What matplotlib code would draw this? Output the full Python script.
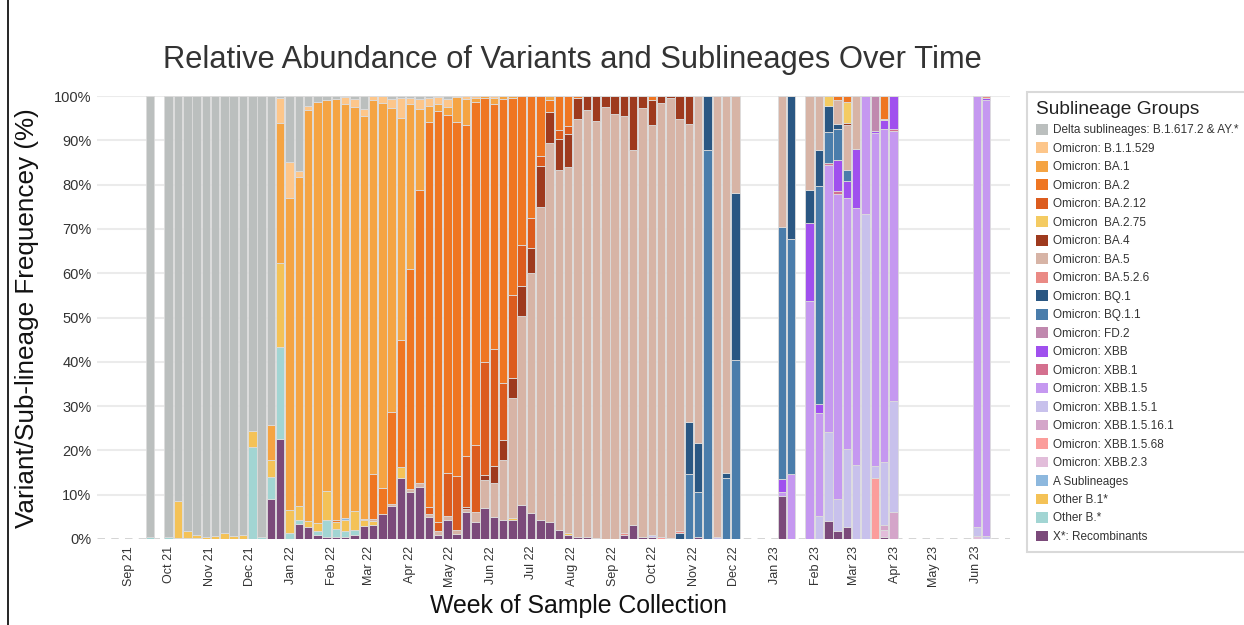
import numpy as np
import pandas as pd
import matplotlib.pyplot as plt
import matplotlib.dates as mdates
from matplotlib.patches import Patch
from matplotlib.lines import Line2D

plt.rcParams['font.family'] = ['Liberation Sans', 'DejaVu Sans']

# weekly sample dates (bar centres)
weeks = ['2021-09-17',
         '2021-10-01', '2021-10-08', '2021-10-15', '2021-10-22', '2021-10-29', '2021-11-05',
         '2021-11-12', '2021-11-19', '2021-11-26', '2021-12-03', '2021-12-10',
         '2021-12-17', '2021-12-24', '2021-12-31', '2022-01-07', '2022-01-14', '2022-01-21',
         '2022-01-28', '2022-02-04', '2022-02-11', '2022-02-18',
         '2022-02-25', '2022-03-04', '2022-03-11', '2022-03-18', '2022-03-25', '2022-04-01',
         '2022-04-08', '2022-04-15', '2022-04-22', '2022-04-29',
         '2022-05-06', '2022-05-13', '2022-05-20', '2022-05-27', '2022-06-03', '2022-06-10',
         '2022-06-17', '2022-06-24', '2022-07-01', '2022-07-08',
         '2022-07-15', '2022-07-22', '2022-07-29', '2022-08-05', '2022-08-12', '2022-08-19',
         '2022-08-26', '2022-09-02', '2022-09-09', '2022-09-16',
         '2022-09-23', '2022-09-30', '2022-10-07', '2022-10-14', '2022-10-21', '2022-10-28',
         '2022-11-04', '2022-11-11', '2022-11-18', '2022-11-25', '2022-12-02',
         '2023-01-06', '2023-01-13', '2023-01-27', '2023-02-03', '2023-02-10', '2023-02-17',
         '2023-02-24', '2023-03-03', '2023-03-10', '2023-03-17', '2023-03-24', '2023-03-31',
         '2023-06-02', '2023-06-09']

# % per lineage, one value per week (rows: Sep-Dec21 | Dec21-Feb22 | Feb-Apr22 | May-Jul22 |
# Jul-Sep22 | Sep-Dec22 | Jan-Mar23 | Jun23)
delta = [99.5, 99.5, 91.5, 98.1, 99, 99.6, 99.4, 98.7, 99.3, 99, 75.6, 99.6,
         74.3, 0.4, 14.8, 16.9, 2.3, 1.4, 0.8, 0.6, 0.2, 0.7,
         2.9, 0, 0, 0.6, 0.5, 0.5, 0.6, 0.5, 0.3, 0.7,
         0, 0, 0, 0, 0, 0, 0, 0, 0, 0,
         0, 0, 0, 0, 0, 0, 0, 0, 0, 0,
         0, 0, 0, 0, 0, 0, 0, 0, 0, 0, 0,
         0, 0, 0, 0, 0, 0, 0, 0, 0, 0, 0, 0,
         0, 0]
b11529 = [0, 0, 0, 0, 0, 0, 0, 0, 0, 0, 0, 0,
          0, 5.6, 8.3, 1.4, 0.9, 0, 0, 0, 1.7, 1.7,
          1.6, 0.8, 1.6, 2.1, 4.5, 1.4, 2.3, 1.7, 1.5, 1.7,
          0.3, 0.7, 0.4, 0, 0.4, 0, 0, 0, 0, 0,
          0, 0, 0, 0, 0, 0, 0, 0, 0, 0,
          0, 0, 0, 0, 0, 0, 0, 0, 0, 0, 0,
          0, 0, 0, 0, 0, 0, 0, 0, 0, 0, 0, 0,
          0, 0]
ba1 = [0, 0, 0, 0, 0, 0, 0, 0, 0, 0, 0, 0,
       7.8, 31.8, 70.4, 74.3, 92.7, 94.9, 88.3, 95.2, 93.3, 91.2,
       90.9, 84.7, 86.6, 68.6, 50.0, 36.9, 18.4, 3.7, 1.7, 1.8,
       5.6, 5.8, 1.0, 0.5, 1.3, 0.6, 0.4, 0, 0, 0,
       1.0, 0, 0, 0, 0, 0, 0, 0, 0, 0,
       0, 0, 0, 0, 0, 0, 0, 0, 0, 0, 0,
       0, 0, 0, 0, 0, 0, 0, 0, 0, 0, 0, 0,
       0, 0]
ba2 = [0, 0, 0, 0, 0, 0, 0, 0, 0, 0, 0, 0,
       0, 0, 0, 0, 0, 0, 0, 0.3, 0, 0,
       0.4, 10.3, 6.0, 20.8, 28.6, 49.4, 66.1, 86.8, 92.9, 80.9,
       79.8, 74.7, 77.3, 59.5, 55.4, 64.2, 44.5, 33.6, 27.6, 13.5,
       2.5, 7.7, 6.8, 0.5, 0, 0, 0, 0, 0, 0,
       0, 0.8, 0, 0, 0, 0, 0, 0, 0, 0, 0,
       0, 0, 0, 0, 0, 0.9, 1.3, 0, 0, 0, 5.1, 0,
       0, 0]
ba212 = [0, 0, 0, 0, 0, 0, 0, 0, 0, 0, 0, 0,
         0, 0, 0, 0, 0, 0, 0, 0, 0, 0,
         0, 0, 0, 0, 0, 0, 0, 1.5, 1.9, 9.8,
         12.0, 11.5, 15.0, 25.6, 26.3, 12.9, 18.8, 9.4, 6.6, 2.3,
         0, 2.1, 1.7, 0, 0, 0, 0, 0, 0, 0,
         0, 0, 0, 0, 0, 0, 0, 0, 0, 0, 0,
         0, 0, 0, 0, 0, 0, 0, 0, 0, 0, 0, 0,
         0, 0]
ba275 = [0, 0, 0, 0, 0, 0, 0, 0, 0, 0, 0, 0,
         0, 0, 0, 0, 0, 0, 0, 0, 0, 0,
         0, 0, 0, 0, 0, 0, 0, 0, 0, 0,
         0, 0, 0, 0, 0, 0, 0, 0, 0, 0,
         0, 0, 0, 0, 0, 0, 0, 0, 0, 0,
         0, 0, 0, 0, 0, 0, 0, 0, 0, 0, 0,
         0, 0, 0, 0, 2.3, 0, 4.7, 0, 0, 0, 0.4, 0,
         0, 0]
ba4 = [0, 0, 0, 0, 0, 0, 0, 0, 0, 0, 0, 0,
       0, 0, 0, 0, 0, 0, 0, 0, 0, 0,
       0, 0, 0, 0, 0, 0, 0, 0, 0, 0,
       0, 0.5, 0, 1.1, 3.8, 4.5, 4.4, 6.6, 5.8, 9.3,
       7.0, 6.9, 7.5, 4.7, 3.2, 5.6, 2.5, 4.0, 4.5, 12.3,
       2.7, 5.8, 1.5, 0.4, 5.3, 6.4, 0, 0, 0, 0, 0,
       0, 0, 0, 0, 0, 0, 0.5, 0, 0, 0, 0, 0,
       0, 0]
ba5 = [0, 0, 0, 0, 0, 0, 0, 0, 0, 0, 0, 0,
       0, 0, 0, 0, 0, 0, 0, 0, 0, 0,
       0, 0.5, 0, 0.5, 0, 0.8, 0.8, 0.6, 1.0, 0.8,
       1.0, 0.8, 2.3, 6.2, 7.7, 13.4, 27.2, 42.7, 54.2, 70.6,
       85.6, 81.3, 82.6, 94.4, 96.4, 94.2, 97.5, 96.0, 94.2, 84.5,
       96.8, 92.6, 98.1, 99.3, 92.8, 67.1, 78.4, 0, 99.6, 85.2, 21.8,
       29.6, 0, 21.2, 12.2, 0, 5.5, 10.2, 12.0, 0, 0, 0, 0,
       0, 0]
ba526 = [0, 0, 0, 0, 0, 0, 0, 0, 0, 0, 0, 0,
         0, 0, 0, 0, 0, 0, 0, 0, 0, 0,
         0, 0, 0, 0, 0, 0, 0, 0, 0, 0,
         0, 0, 0, 0, 0, 0, 0, 0, 0, 0,
         0, 0, 0, 0, 0, 0, 0, 0, 0.5, 0,
         0, 0, 0, 0.3, 0.5, 0, 0, 0, 0, 0, 0,
         0, 0, 0, 0, 0, 0, 0, 0, 0, 0, 0, 0,
         0, 0.5]
bq1 = [0, 0, 0, 0, 0, 0, 0, 0, 0, 0, 0, 0,
       0, 0, 0, 0, 0, 0, 0, 0, 0, 0,
       0, 0, 0, 0, 0, 0, 0, 0, 0, 0,
       0, 0, 0, 0, 0, 0, 0, 0, 0, 0,
       0, 0, 0, 0, 0, 0, 0, 0, 0, 0,
       0, 0, 0, 0, 1.4, 11.8, 11.1, 12.2, 0, 1.1, 37.8,
       0, 32.2, 7.4, 8.1, 5.8, 1.1, 0, 0, 0, 0, 0, 0,
       0, 0]
bq11 = [0, 0, 0, 0, 0, 0, 0, 0, 0, 0, 0, 0,
        0, 0, 0, 0, 0, 0, 0, 0, 0, 0,
        0, 0, 0, 0, 0, 0, 0, 0, 0, 0,
        0, 0, 0, 0, 0, 0, 0, 0, 0, 0,
        0, 0, 0, 0, 0, 0, 0, 0, 0, 0,
        0, 0, 0, 0, 0, 14.7, 10.1, 87.8, 0, 13.7, 40.4,
        56.8, 53.2, 0, 49.2, 7.0, 6.9, 2.5, 0, 0, 0, 0, 0,
        0, 0]
fd2 = [0, 0, 0, 0, 0, 0, 0, 0, 0, 0, 0, 0,
       0, 0, 0, 0, 0, 0, 0, 0, 0, 0,
       0, 0, 0, 0, 0, 0, 0, 0, 0, 0,
       0, 0, 0, 0, 0, 0, 0, 0, 0, 0,
       0, 0, 0, 0, 0, 0, 0, 0, 0, 0,
       0, 0, 0, 0, 0, 0, 0, 0, 0, 0, 0,
       0, 0, 0, 0, 0, 0, 0, 0, 0, 7.9, 0, 0,
       0, 0]
xbb = [0, 0, 0, 0, 0, 0, 0, 0, 0, 0, 0, 0,
       0, 0, 0, 0, 0, 0, 0, 0, 0, 0,
       0, 0, 0, 0, 0, 0, 0, 0, 0, 0,
       0, 0, 0, 0, 0, 0, 0, 0, 0, 0,
       0, 0, 0, 0, 0, 0, 0, 0, 0, 0,
       0, 0, 0, 0, 0, 0, 0, 0, 0, 0, 0,
       3.0, 0, 17.7, 2.0, 0, 7.1, 3.8, 13.3, 0, 0.5, 2.0, 7.4,
       0, 0.4]
xbb1 = [0, 0, 0, 0, 0, 0, 0, 0, 0, 0, 0, 0,
        0, 0, 0, 0, 0, 0, 0, 0, 0, 0,
        0, 0, 0, 0, 0, 0, 0, 0, 0, 0,
        0, 0, 0, 0, 0, 0, 0, 0, 0, 0,
        0, 0, 0, 0, 0, 0, 0, 0, 0, 0,
        0, 0, 0, 0, 0, 0, 0, 0, 0, 0, 0,
        0, 0, 0, 0, 0.5, 0.6, 0, 0, 0, 0, 0, 0.6,
        0, 0]
xbb15 = [0, 0, 0, 0, 0, 0, 0, 0, 0, 0, 0, 0,
         0, 0, 0, 0, 0, 0, 0, 0, 0, 0,
         0, 0, 0, 0, 0, 0, 0, 0, 0, 0,
         0, 0, 0, 0, 0, 0, 0, 0, 0, 0,
         0, 0, 0, 0, 0, 0, 0, 0, 0, 0,
         0, 0, 0, 0, 0, 0, 0, 0, 0, 0, 0,
         0.9, 14.6, 53.7, 23.3, 60.2, 68.9, 56.7, 58.0, 26.7, 74.9, 74.9, 60.8,
         97.4, 98.5]
xbb151 = [0, 0, 0, 0, 0, 0, 0, 0, 0, 0, 0, 0,
          0, 0, 0, 0, 0, 0, 0, 0, 0, 0,
          0, 0, 0, 0, 0, 0, 0, 0, 0, 0,
          0, 0, 0, 0, 0, 0, 0, 0, 0, 0,
          0, 0, 0, 0, 0, 0, 0, 0, 0, 0,
          0, 0.3, 0, 0, 0, 0, 0, 0, 0.4, 0, 0,
          0, 0, 0, 5.2, 20.1, 7.3, 17.7, 16.7, 73.3, 2.8, 14.3, 25.0,
          1.9, 0.6]
xbb15161 = [0, 0, 0, 0, 0, 0, 0, 0, 0, 0, 0, 0,
            0, 0, 0, 0, 0, 0, 0, 0, 0, 0,
            0, 0, 0, 0, 0, 0, 0, 0, 0, 0,
            0, 0, 0, 0, 0, 0, 0, 0, 0, 0,
            0, 0, 0, 0, 0, 0, 0, 0, 0, 0,
            0, 0, 0, 0, 0, 0, 0, 0, 0, 0, 0,
            0, 0, 0, 0, 0, 0, 0, 0, 0, 0, 1.0, 6.2,
            0, 0]
xbb1568 = [0, 0, 0, 0, 0, 0, 0, 0, 0, 0, 0, 0,
           0, 0, 0, 0, 0, 0, 0, 0, 0, 0,
           0, 0, 0, 0, 0, 0, 0, 0, 0, 0,
           0, 0, 0, 0, 0, 0, 0, 0, 0, 0,
           0, 0, 0, 0, 0, 0, 0, 0, 0, 0,
           0, 0, 0.4, 0, 0, 0, 0, 0, 0, 0, 0,
           0, 0, 0, 0, 0, 0, 0, 0, 0, 13.7, 0, 0,
           0, 0]
xbb23 = [0, 0, 0, 0, 0, 0, 0, 0, 0, 0, 0, 0,
         0, 0, 0, 0, 0, 0, 0, 0, 0, 0,
         0, 0, 0, 0, 0, 0, 0, 0, 0, 0,
         0, 0, 0, 0, 0, 0, 0, 0, 0, 0,
         0, 0, 0, 0, 0, 0, 0, 0, 0, 0,
         0, 0, 0, 0, 0, 0, 0, 0, 0, 0, 0,
         0, 0, 0, 0, 0, 0, 0, 0, 0, 0, 1.7, 0,
         0.7, 0]
a_sub = [0, 0, 0, 0, 0, 0, 0, 0, 0, 0, 0, 0,
         0, 0, 0, 0, 0, 0, 0, 0, 0.6, 0,
         0, 0, 0, 0, 0, 0, 0, 0, 0, 0,
         0, 0, 0, 0, 0, 0, 0, 0, 0, 0,
         0, 0, 0, 0, 0, 0, 0, 0, 0, 0,
         0, 0, 0, 0, 0, 0, 0, 0, 0, 0, 0,
         0, 0, 0, 0, 0, 0, 0, 0, 0, 0, 0, 0,
         0, 0]
other_b1 = [0, 0, 8.2, 1.6, 0.8, 0.4, 0.6, 1.3, 0.7, 1.0, 3.6, 0,
            4.0, 18.8, 5.2, 3.2, 1.4, 2.0, 6.5, 1.7, 2.3, 4.4,
            1.3, 0.8, 0, 0, 2.3, 0, 0, 0, 0, 0,
            0, 0, 0, 0, 0, 0, 0.3, 0, 0, 0,
            0, 0, 0.5, 0, 0, 0, 0, 0, 0, 0,
            0, 0, 0, 0, 0, 0, 0, 0, 0, 0, 0,
            0, 0, 0, 0, 0, 0, 0, 0, 0, 0, 0, 0,
            0, 0]
other_b = [0.5, 0.5, 0.3, 0.3, 0.2, 0, 0, 0, 0, 0, 20.8, 0.4,
           4.9, 20.8, 1.3, 0.8, 0, 0.9, 3.9, 1.7, 1.4, 1.0,
           0, 0, 0, 0, 0, 0, 0, 0, 0, 0,
           0, 0, 0, 0, 0, 0, 0, 0, 0, 0,
           0, 0, 0, 0, 0, 0, 0, 0, 0, 0,
           0, 0, 0, 0, 0, 0, 0, 0, 0, 0, 0,
           0, 0, 0, 0, 0, 0, 0, 0, 0, 0, 0, 0,
           0, 0]
recomb = [0, 0, 0, 0, 0, 0, 0, 0, 0, 0, 0, 0,
          9.0, 22.6, 0, 3.4, 2.7, 0.8, 0.5, 0.5, 0.5, 1.0,
          2.9, 3.2, 5.6, 7.5, 13.8, 10.5, 11.8, 5.0, 0.9, 4.3,
          1.1, 6.0, 3.9, 7.1, 5.0, 4.4, 4.4, 7.7, 5.8, 4.3,
          3.9, 2.0, 0.9, 0.4, 0.4, 0.2, 0, 0, 0.8, 3.2,
          0.5, 0.5, 0, 0, 0, 0, 0.4, 0, 0, 0, 0,
          9.7, 0, 0, 0, 4.1, 1.7, 2.6, 0, 0, 0, 0.4, 0,
          0, 0]

# legend order (top of stack first)
labels = ['Delta sublineages: B.1.617.2 & AY.*', 'Omicron: B.1.1.529', 'Omicron: BA.1',
          'Omicron: BA.2', 'Omicron: BA.2.12', 'Omicron  BA.2.75', 'Omicron: BA.4',
          'Omicron: BA.5', 'Omicron: BA.5.2.6', 'Omicron: BQ.1', 'Omicron: BQ.1.1',
          'Omicron: FD.2', 'Omicron: XBB', 'Omicron: XBB.1', 'Omicron: XBB.1.5',
          'Omicron: XBB.1.5.1', 'Omicron: XBB.1.5.16.1', 'Omicron: XBB.1.5.68',
          'Omicron: XBB.2.3', 'A Sublineages', 'Other B.1*', 'Other B.*', 'X*: Recombinants']
series = [delta, b11529, ba1, ba2, ba212, ba275, ba4, ba5, ba526, bq1, bq11, fd2, xbb,
          xbb1, xbb15, xbb151, xbb15161, xbb1568, xbb23, a_sub, other_b1, other_b, recomb]
colors = ['#bbbfbe', '#fdc68a', '#f5a443', '#ef7622', '#dc5c1e', '#f4cb62', '#9e3a1e',
          '#d7b4a6', '#ea8a85', '#2a5783', '#4a7dab', '#c088ae', '#a050ee', '#d4708f',
          '#c598f0', '#c8c1ec', '#d4a5c9', '#fb9d9b', '#e2bdda', '#8db8de', '#f4c257',
          '#a2d5d3', '#7b4a7a']

x = mdates.date2num(pd.to_datetime(weeks))
vals = np.array(series, dtype=float)
vals = vals / vals.sum(axis=0) * 100

fig = plt.figure(figsize=(12.44, 6.25), dpi=100)
ax = fig.add_axes([0.078, 0.1376, 0.734, 0.7088])

bottom = np.zeros(len(x))
for k in range(len(series) - 1, -1, -1):
    ax.bar(x, vals[k], bottom=bottom, width=6.4, color=colors[k],
           edgecolor='#dcdcdc', linewidth=0.6, zorder=3)
    bottom += vals[k]

ax.set_xlim(mdates.date2num(pd.Timestamp('2021-08-08')), mdates.date2num(pd.Timestamp('2023-06-27')))
ax.set_ylim(0, 100)
for s in ax.spines.values():
    s.set_visible(False)

yt = np.arange(0, 101, 10)
ax.set_yticks(yt)
ax.set_yticklabels([f'{v}%' for v in yt], fontsize=10.5, color='#333333')
for v in yt[1:]:
    ax.axhline(v, color='#ebebeb', lw=1.5, zorder=0)
ax.axhline(0, color='#c8c8c8', lw=1.8, ls=(0, (3, 2.5)), zorder=1)

months = pd.date_range('2021-09-01', '2023-06-01', freq='MS')
ax.set_xticks(mdates.date2num(months))
ax.set_xticklabels([m.strftime('%b %y') for m in months], rotation=90, fontsize=9, color='#333333')
ax.tick_params(length=0, pad=5)
ax.tick_params(axis='y', pad=4)

fig.text(0.46, 0.904, 'Relative Abundance of Variants and Sublineages Over Time',
         ha='center', va='center', fontsize=22.2, color='#333333')
fig.text(0.022, 0.491, 'Variant/Sub-lineage Frequencey (%)', rotation=90,
         ha='center', va='center', fontsize=18.8, color='#111111')
fig.text(0.465, 0.0304, 'Week of Sample Collection', ha='center', va='center',
         fontsize=17.9, color='#111111')

handles = [Patch(facecolor=c, edgecolor='none') for c in colors]
leg = fig.legend(handles, labels, loc='upper left', bbox_to_anchor=(0.8256, 0.853),
                 borderaxespad=0, title='Sublineage Groups', title_fontsize=13.8,
                 fontsize=8.45, frameon=True, fancybox=False, edgecolor='#d0d0d0',
                 handlelength=1.05, handleheight=1.05, handletextpad=0.45,
                 labelspacing=0.515, borderpad=0.75, alignment='left')
leg.get_frame().set_linewidth(1.5)
for t in leg.get_texts():
    t.set_color('#333333')
leg.get_title().set_color('#222222')

fig.add_artist(Line2D([0.0065, 0.0065], [0, 1], color='black', lw=1.2))

fig.savefig('out.png', dpi=100)
